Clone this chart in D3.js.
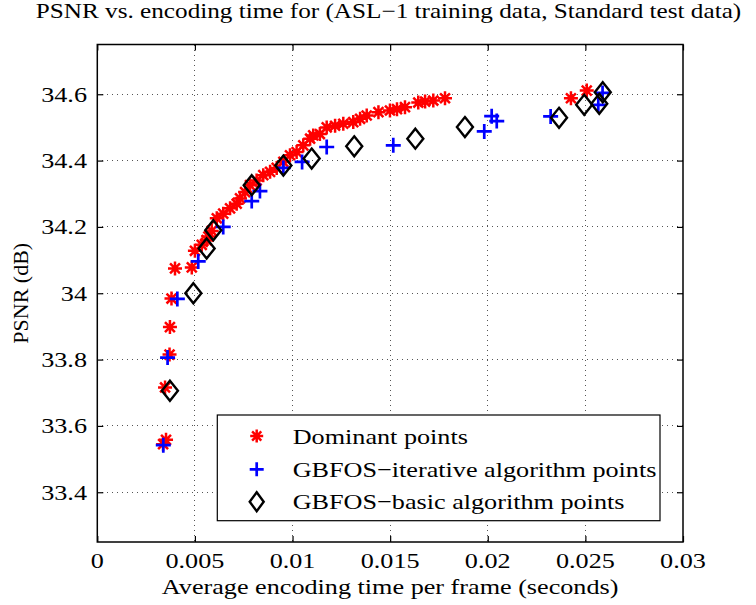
<!DOCTYPE html>
<html>
<head>
<meta charset="utf-8">
<script src="https://cdn.jsdelivr.net/npm/d3@7"></script>
<style>
  html, body { margin: 0; padding: 0; background: #fff; }
  svg { display: block; }
  text { font-family: "Liberation Serif", "Times New Roman", serif; fill: #000; }
</style>
</head>
<body>
<svg id="chart" width="756" height="605"></svg>
<script>
// Dominant points: [encoding time (s), PSNR (dB)]
const dominantTime = [0.00337, 0.00352, 0.00347, 0.00370, 0.00372, 0.00380, 0.00398, 0.00484,
  0.00500, 0.00535, 0.00560, 0.00569, 0.00586, 0.00612, 0.00645, 0.00680, 0.00714, 0.00731,
  0.00757, 0.00782, 0.00816, 0.00850, 0.00885, 0.00919, 0.00953, 0.00987, 0.01021, 0.01055,
  0.01090, 0.01106, 0.01140, 0.01175, 0.01218, 0.01260, 0.01311, 0.01346, 0.01380, 0.01440,
  0.01499, 0.01535, 0.01576, 0.01644, 0.01679, 0.01721, 0.01781, 0.02426, 0.02507];
const dominantPSNR = [33.545, 33.558, 33.716, 33.815, 33.898, 33.984, 34.075, 34.078,
  34.128, 34.146, 34.160, 34.171, 34.188, 34.226, 34.240, 34.256, 34.270, 34.286,
  34.305, 34.326, 34.340, 34.356, 34.366, 34.378, 34.396, 34.416, 34.426, 34.446,
  34.466, 34.476, 34.480, 34.500, 34.505, 34.511, 34.516, 34.526, 34.536, 34.546,
  34.551, 34.555, 34.561, 34.575, 34.578, 34.581, 34.588, 34.588, 34.611];

// GBFOS-iterative algorithm points
const iterativeTime = [0.00338, 0.00360, 0.00410, 0.00517, 0.00645, 0.00791, 0.00833, 0.00953,
  0.01049, 0.01175, 0.01516, 0.01982, 0.02020, 0.02046, 0.02322, 0.02566, 0.02588];
const iterativePSNR = [33.542, 33.806, 33.983, 34.096, 34.200, 34.278, 34.308, 34.378,
  34.396, 34.441, 34.446, 34.488, 34.534, 34.519, 34.533, 34.568, 34.604];

// GBFOS-basic algorithm points
const basicTime = [0.00372, 0.00492, 0.00560, 0.00594, 0.00791, 0.00953, 0.01098, 0.01316,
  0.01629, 0.01883, 0.02365, 0.02494, 0.02571, 0.02589];
const basicPSNR = [33.706, 34.000, 34.135, 34.190, 34.326, 34.385, 34.406, 34.443,
  34.466, 34.501, 34.529, 34.568, 34.571, 34.606];

const xTicks = [0, 0.005, 0.01, 0.015, 0.02, 0.025, 0.03];
const xTickLabels = ["0", "0.005", "0.01", "0.015", "0.02", "0.025", "0.03"];
const yTicks = [33.4, 33.6, 33.8, 34.0, 34.2, 34.4, 34.6];
const yTickLabels = ["33.4", "33.6", "33.8", "34", "34.2", "34.4", "34.6"];

const titleText = "PSNR vs. encoding time for (ASL\u22121 training data, Standard test data)";
const xLabelText = "Average encoding time per frame (seconds)";
const yLabelText = "PSNR (dB)";
const legendLabels = ["Dominant points", "GBFOS\u2212iterative algorithm points", "GBFOS\u2212basic algorithm points"];

// ---- layout ----
const L = 97.3, R = 683, T = 44.5, B = 542;
const SX = 1.19;          // horizontal text stretch
const FS = 22;            // font size

const svg = d3.select("#chart");
const x = d3.scaleLinear().domain([0, 0.03]).range([L, R]);
const y = d3.scaleLinear().domain([33.25, 34.75]).range([B, T]);

// stretched text helper (anchor point stays fixed)
function sText(g, px, py, str, anchor, size, sx) {
  return g.append("text")
    .attr("transform", `translate(${px},${py}) scale(${sx || SX},1)`)
    .attr("text-anchor", anchor)
    .style("font-size", (size || FS) + "px")
    .text(str);
}

// grid
const grid = svg.append("g").attr("stroke", "#555").attr("stroke-width", 1)
  .attr("stroke-dasharray", "1,4").attr("shape-rendering", "crispEdges");
grid.selectAll("line.gx").data(xTicks.slice(1, -1)).join("line")
  .attr("x1", d => x(d)).attr("x2", d => x(d)).attr("y1", T).attr("y2", B);
grid.selectAll("line.gy").data(yTicks).join("line")
  .attr("y1", d => y(d)).attr("y2", d => y(d)).attr("x1", L).attr("x2", R);

// axes (ticks inward, mirrored on top/right)
const tickLen = 6;
const axX = d3.axisBottom(x).tickValues(xTicks).tickSize(-tickLen).tickFormat("");
const axXt = d3.axisTop(x).tickValues(xTicks).tickSize(-tickLen).tickFormat("");
const axY = d3.axisLeft(y).tickValues(yTicks).tickSize(-tickLen).tickFormat("");
const axYr = d3.axisRight(y).tickValues(yTicks).tickSize(-tickLen).tickFormat("");
[[axX, `translate(0,${B})`], [axXt, `translate(0,${T})`], [axY, `translate(${L},0)`], [axYr, `translate(${R},0)`]]
  .forEach(([a, tr]) => {
    const g = svg.append("g").attr("transform", tr).call(a);
    g.select(".domain").remove();
    g.selectAll("line").attr("stroke", "#000").attr("stroke-width", 1.2);
  });
svg.append("rect").attr("x", L).attr("y", T).attr("width", R - L).attr("height", B - T)
  .attr("fill", "none").attr("stroke", "#000").attr("stroke-width", 1.5);

// tick labels
const lab = svg.append("g");
xTicks.forEach((t, i) => sText(lab, x(t), 568, xTickLabels[i], "middle"));
yTicks.forEach((t, i) => sText(lab, 87, y(t) + 7.5, yTickLabels[i], "end"));

// titles
sText(svg, 388.5, 18, titleText, "middle", 21, 1.2);
sText(svg, (L + R) / 2, 594, xLabelText, "middle");
svg.append("text")
  .attr("transform", `translate(28,${(T + B) / 2}) rotate(-90)`)
  .attr("text-anchor", "middle").style("font-size", FS + "px").text(yLabelText);

// marker paths
function asterisk(r) {
  const d = r * Math.SQRT1_2;
  return `M${-r},0L${r},0M0,${-r}L0,${r}M${-d},${-d}L${d},${d}M${-d},${d}L${d},${-d}`;
}
function plus(r) { return `M${-r},0L${r},0M0,${-r}L0,${r}`; }
function diamond(w, h) { return `M0,${-h}L${w},0L0,${h}L${-w},0Z`; }

const series = [
  { t: dominantTime, v: dominantPSNR, path: asterisk(7), stroke: "#ff0000", sw: 2.5, lpath: asterisk(6.5) },
  { t: iterativeTime, v: iterativePSNR, path: plus(7.5), stroke: "#0000ff", sw: 2.7, lpath: plus(7) },
  { t: basicTime, v: basicPSNR, path: diamond(8, 10), stroke: "#000", sw: 2.4, lpath: diamond(7, 9.5) }
];

const plot = svg.append("g");
series.forEach(s => {
  plot.append("g").selectAll("path").data(s.t.map((t, i) => [t, s.v[i]])).join("path")
    .attr("transform", d => `translate(${x(d[0])},${y(d[1])})`)
    .attr("d", s.path).attr("fill", "none").attr("stroke", s.stroke)
    .attr("stroke-width", s.sw).attr("stroke-linejoin", "miter");
});

// legend
const lg = svg.append("g");
lg.append("rect").attr("x", 217.3).attr("y", 415).attr("width", 660 - 217.3).attr("height", 520.7 - 415)
  .attr("fill", "#fff").attr("stroke", "#000").attr("stroke-width", 1.2);
const rowY = [436, 469.3, 501.7];
series.forEach((s, i) => {
  lg.append("path").attr("transform", `translate(256.7,${rowY[i]})`)
    .attr("d", s.lpath).attr("fill", "none").attr("stroke", s.stroke).attr("stroke-width", s.sw);
  sText(lg, 292.7, rowY[i] + 7.5, legendLabels[i], "start");
});
</script>
</body>
</html>
